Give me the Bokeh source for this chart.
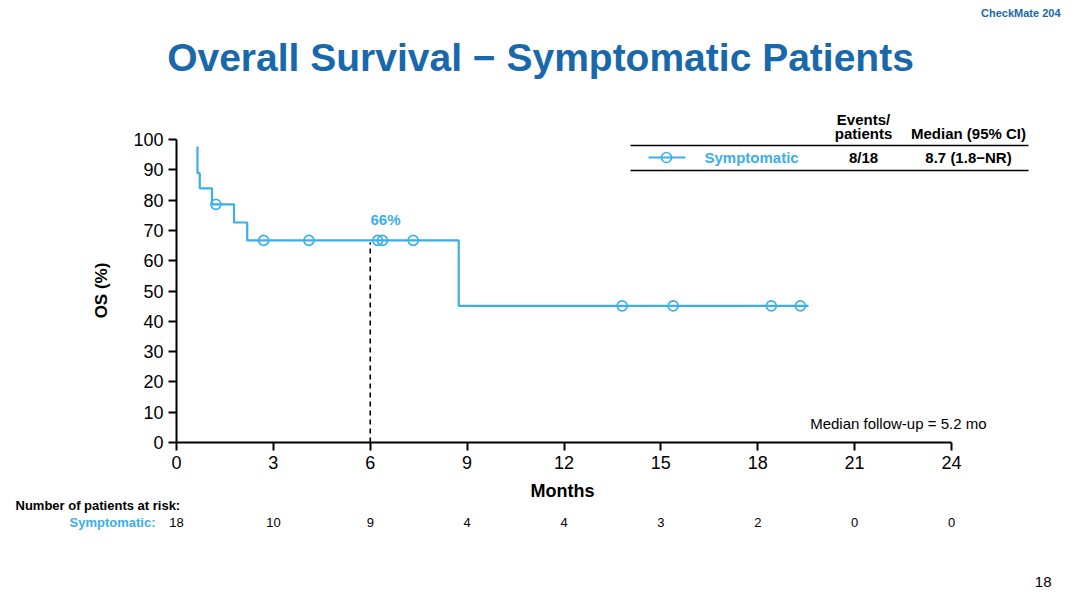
from bokeh.plotting import figure
from bokeh.models import Range1d, FixedTicker, Label
from bokeh.embed import file_html
from bokeh.resources import INLINE

# ---------------- data ----------------
step_times = [0.65, 0.65, 0.72, 1.10, 1.78, 2.19, 8.74, 19.57]
step_surv = [97.7, 88.9, 83.9, 78.6, 72.6, 66.7, 45.1, 45.1]
censor_times = [1.22, 2.70, 4.10, 6.23, 6.38, 7.33, 13.80, 15.38, 18.42, 19.32]
x_ticks = [0, 3, 6, 9, 12, 15, 18, 21, 24]
y_ticks = [0, 10, 20, 30, 40, 50, 60, 70, 80, 90, 100]
risk_times = [0, 3, 6, 9, 12, 15, 18, 21, 24]
risk_counts = [18, 10, 9, 4, 4, 3, 2, 0, 0]
landmark_month = 6
landmark_surv = 66
events_patients = "8/18"
median_ci = "8.7 (1.8\u2212NR)"

BLUE = "#3caee8"
DARK = "#1868ab"
FONT = "Liberation Sans"

def surv_at(t):
    s = step_surv[0]
    for tt, ss in zip(step_times, step_surv):
        if tt <= t:
            s = ss
    return s

censor_surv = [surv_at(t) for t in censor_times]

W, H = 1064, 592
# page pixel -> data mapping (plot area 0..24 months spans px 176..951, 0..100 % spans py 442..139)
fx = 775 / 24
fy = 303 / 100
def X(px):
    return (px - 176) / fx
def Y(py):
    return (442 - py) / fy

p = figure(width=W, height=H, output_backend="svg", toolbar_location=None,
           x_range=Range1d(X(0), X(W)), y_range=Range1d(Y(H), Y(0)),
           min_border=0, min_border_left=0, min_border_right=0,
           min_border_top=0, min_border_bottom=0)
p.outline_line_color = None
p.grid.visible = False
p.background_fill_color = "white"

for ax, ticks, bnds in ((p.xaxis[0], x_ticks, (0, 24)), (p.yaxis[0], y_ticks, (0, 100))):
    ax.ticker = FixedTicker(ticks=ticks)
    ax.bounds = bnds
    ax.fixed_location = 0
    ax.axis_line_width = 2
    ax.axis_line_color = "black"
    ax.major_tick_line_width = 2
    ax.major_tick_line_color = "black"
    ax.major_tick_out = 8
    ax.major_tick_in = 0
    ax.minor_tick_line_color = None
    ax.major_label_text_font = FONT
    ax.major_label_text_font_size = "18px"
    ax.major_label_text_color = "black"
    ax.major_label_standoff = 5

# KM curve
p.step(step_times, step_surv, mode="after", line_color=BLUE, line_width=2.2)
p.scatter(censor_times, censor_surv, marker="circle", size=10, fill_color=None,
          line_color=BLUE, line_width=1.6)

# landmark
p.segment(x0=[landmark_month], y0=[0], x1=[landmark_month], y1=[landmark_surv],
          line_color="black", line_width=1.6, line_dash="5 4")

def lab(x, y, text, size, bold=False, color="black", align="center", angle=0):
    p.add_layout(Label(x=x, y=y, text=text, text_font=FONT, text_font_size=size,
                       text_font_style="bold" if bold else "normal", text_color=color,
                       text_align=align, text_baseline="middle", angle=angle))

lab(X(385), Y(219), f"{landmark_surv}%", "15px", True, BLUE)

# title & misc
lab(X(540), Y(57), "Overall Survival \u2212 Symptomatic Patients", "39px", True, DARK)
lab(X(1060), Y(12), "CheckMate 204", "11px", True, DARK, "right")
lab(X(1051), Y(581), "18", "15px", False, "black", "right")
lab(X(562), Y(490), "Months", "18px", True)
lab(X(101), Y(290), "OS (%)", "17px", True, angle=1.5708)
lab(X(986), Y(423), "Median follow-up = 5.2 mo", "15px", False, "black", "right")

# legend table
p.segment(x0=[X(630), X(630)], y0=[Y(145), Y(170)], x1=[X(1028), X(1028)], y1=[Y(145), Y(170)],
          line_color="black", line_width=1.5)
lab(X(863), Y(119), "Events/", "15px", True)
lab(X(863), Y(133), "patients", "15px", True)
lab(X(968), Y(133), "Median (95% CI)", "15px", True)
p.line([X(648), X(685)], [Y(157), Y(157)], line_color=BLUE, line_width=2.2)
p.scatter([X(666)], [Y(157)], marker="circle", size=10, fill_color=None, line_color=BLUE, line_width=1.6)
lab(X(704), Y(157), "Symptomatic", "15px", True, BLUE, "left")
lab(X(863), Y(157), events_patients, "15px", True)
lab(X(968), Y(157), median_ci, "15px", True)

# risk table
lab(X(15), Y(505), "Number of patients at risk:", "13px", True, "black", "left")
lab(X(155), Y(522), "Symptomatic:", "13px", True, BLUE, "right")
for t, n in zip(risk_times, risk_counts):
    lab(t, Y(522), str(n), "13px")

open("out.html", "w").write(file_html(p, INLINE))
